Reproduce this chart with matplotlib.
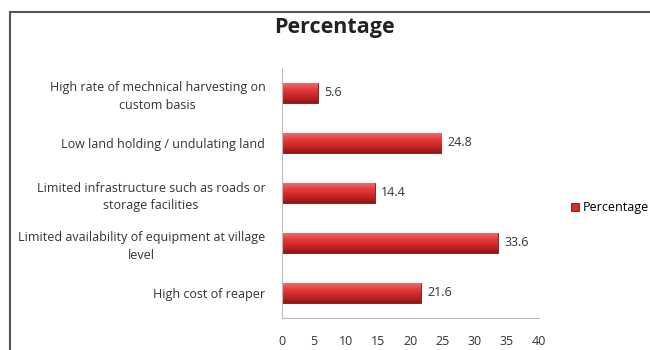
import numpy as np
import matplotlib.pyplot as plt
from matplotlib.patches import Rectangle
from matplotlib.colors import LinearSegmentedColormap

plt.rcParams['font.family'] = ['Open Sans', 'DejaVu Sans']

# Chart data (bottom to top)
categories = [
    "High cost of reaper",
    "Limited availability of equipment at village\nlevel",
    "Limited infrastructure such as roads or\nstorage facilities",
    "Low land holding / undulating land",
    "High rate of mechnical harvesting on\ncustom basis",
]
percentage = [21.6, 33.6, 14.4, 24.8, 5.6]
x_ticks = [0, 5, 10, 15, 20, 25, 30, 35, 40]

fig = plt.figure(figsize=(6.5, 3.5), dpi=100)

# outer frame (only top and left edges visible in the pasted chart)
fig.patches.append(Rectangle((10 / 650, -0.1), 1.2, 1.1 - 12 / 350, transform=fig.transFigure,
                             fill=False, edgecolor="#555555", linewidth=1.5))

ax = fig.add_axes([282 / 650, 1 - 318 / 350, (539 - 282) / 650, 250 / 350])
bars = ax.barh(range(len(categories)), percentage, height=0.4,
               color="#d12b2b", edgecolor="#7a1414", linewidth=0.6, label="Percentage")

# excel-like shading on each bar
grad = LinearSegmentedColormap.from_list("bar", ["#8e1616", "#c82424", "#e23a3a", "#f06a6a"])
for b in bars:
    x0, y0, w, h = b.get_x(), b.get_y(), b.get_width(), b.get_height()
    ax.imshow(np.linspace(0, 1, 64).reshape(-1, 1), cmap=grad, aspect="auto",
              extent=(x0, x0 + w, y0, y0 + h), origin="lower", zorder=2.5)

for i, v in enumerate(percentage):
    ax.text(v + 1.0, i, f"{v}", va="center", ha="left", fontsize=9, color="#333333")

ax.set_xlim(0, 40)
ax.set_ylim(-0.5, len(categories) - 0.5)
ax.set_xticks(x_ticks)
ax.set_xticklabels([str(t) for t in x_ticks], fontsize=9, color="#333333")
ax.set_yticks(range(len(categories)))
ax.set_yticklabels(categories, fontsize=9, color="#333333", ha="right",
                   multialignment="center", linespacing=1.45)
ax.tick_params(axis="y", length=0, pad=12)
ax.tick_params(axis="x", length=0, pad=12)
for s in ["top", "right"]:
    ax.spines[s].set_visible(False)
ax.spines["left"].set_color("#bbbbbb")
ax.spines["bottom"].set_color("#bbbbbb")

fig.text(334 / 650, 1 - 28 / 350, "Percentage", ha="center", va="center",
         fontsize=15.5, fontweight="bold", color="#222222")

fig.legend(handles=[bars], labels=["Percentage"], loc="center left",
           bbox_to_anchor=(560 / 650, 1 - 208 / 350), frameon=False, fontsize=9,
           handlelength=0.6, handleheight=0.6, handletextpad=0.3)

plt.savefig("out.png", dpi=100)
plt.close()
